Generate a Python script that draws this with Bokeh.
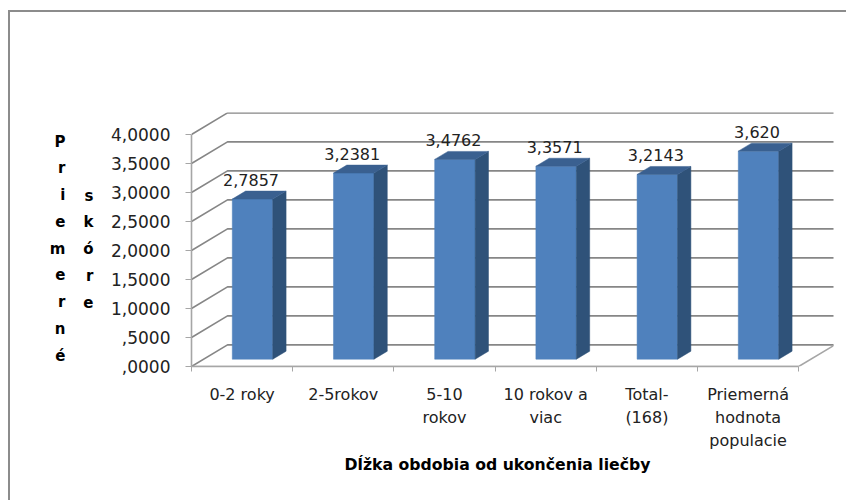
from bokeh.plotting import figure
from bokeh.models import Range1d, FixedTicker, LinearAxis, Title, InlineStyleSheet
from bokeh.core.properties import value
from bokeh.embed import file_html
from bokeh.resources import INLINE

categories = ["0-2 roky", "2-5rokov", "5-10\nrokov", "10 rokov a\nviac", "Total-\n(168)", "Priemerná\nhodnota\npopulacie"]
values = [2.7857, 3.2381, 3.4762, 3.3571, 3.2143, 3.620]
value_labels = ["2,7857", "3,2381", "3,4762", "3,3571", "3,2143", "3,620"]
y_ticks = [0, 0.5, 1, 1.5, 2, 2.5, 3, 3.5, 4]
y_tick_labels = [",0000", ",5000", "1,0000", "1,5000", "2,0000", "2,5000", "3,0000", "3,5000", "4,0000"]
x_title = "Dĺžka obdobia od ukončenia liečby"
y_title_1 = "Priemerné"
y_title_2 = "skóre"

FONT = "DejaVu Sans"
GRID = "#868686"
AXIS = "#a6a6a6"
FRONT = "#4f81bd"
TOP = "#3a6090"
SIDE = "#2f5279"

SLOT_PX, UNIT_PX = 101.2, 58.0
LEFT, RIGHT, TOP_PX, BOTTOM = 191, 833, 112, 366
DX, DY = 36 / SLOT_PX, 21.6 / UNIT_PX      # wall depth in data units

frame_css = InlineStyleSheet(css=""":host::before {content:""; position:absolute; left:8px; top:10px; right:0; bottom:0;
  border-top:2px solid #8c8c8c; border-left:2px solid #8c8c8c; pointer-events:none; z-index:5;}""")

p = figure(width=846, height=500, output_backend="svg", toolbar_location=None,
           x_range=Range1d(0, (RIGHT - LEFT) / SLOT_PX), y_range=Range1d(0, (BOTTOM - TOP_PX) / UNIT_PX),
           min_border_left=LEFT, min_border_right=846 - RIGHT, min_border_top=TOP_PX,
           min_border_bottom=500 - BOTTOM, background_fill_color="white", border_fill_color="white",
           stylesheets=[frame_css])
p.outline_line_color = None
p.grid.visible = False

# walls
n = len(categories)
for t in y_ticks:
    p.line([0, DX, n + DX], [t, t + DY, t + DY], line_color=GRID, line_width=1.6)
p.line([0, n, n + DX], [0, 0, DY], line_color=AXIS, line_width=1.6)

# bars
BAR_START, BAR_W = 0.403, 0.40
BASE, DEPTH = 0.338, 0.37
SCALE = 0.991
lefts = [i + BAR_START for i in range(n)]
rights = [l + BAR_W for l in lefts]
base = BASE * DY
tops = [base + v * SCALE for v in values]
ox, oy = DEPTH * DX, DEPTH * DY
p.quad(left=lefts, right=rights, bottom=base, top=tops, fill_color=FRONT, line_color=FRONT, line_width=0.5)
p.patches([[r, r + ox, r + ox, r] for r in rights],
          [[base, base + oy, t + oy, t] for t in tops], fill_color=SIDE, line_color=SIDE, line_width=0.5)
p.patches([[l, l + ox, r + ox, r] for l, r in zip(lefts, rights)],
          [[t, t + oy, t + oy, t] for t in tops], fill_color=TOP, line_color=TOP, line_width=0.5)
p.text(x=[l + BAR_W / 2 for l in lefts], y=[t + oy for t in tops], text=value_labels,
       text_font=value(FONT), text_font_size="16px", text_color="#222222",
       text_align="center", text_baseline="bottom", x_offset=-1.5, y_offset=-5)

# axes
ax = p.xaxis[0]
ax.bounds = (0, n)
ax.ticker = FixedTicker(ticks=[i + 0.5 for i in range(n)], minor_ticks=list(range(n + 1)))
ax.major_label_overrides = {i + 0.5: c for i, c in enumerate(categories)}
ax.major_tick_out = 0
ax.major_tick_in = 0
ax.minor_tick_out = 5
ax.minor_tick_in = 0
ax.minor_tick_line_color = AXIS
ax.axis_line_color = AXIS
ax.axis_line_width = 1.6
ax.major_label_text_font = FONT
ax.major_label_text_font_size = "16px"
ax.major_label_text_color = "#222222"
ax.major_label_text_line_height = 1.22
ax.major_label_standoff = 13

ay = p.yaxis[0]
ay.bounds = (0, 4)
ay.ticker = FixedTicker(ticks=y_ticks)
ay.major_label_overrides = dict(zip(y_ticks, y_tick_labels))
ay.major_tick_out = 6
ay.major_tick_in = 0
ay.minor_tick_line_color = None
ay.major_tick_line_color = AXIS
ay.axis_line_color = AXIS
ay.axis_line_width = 1.6
ay.major_label_text_font = FONT
ay.major_label_text_font_size = "17px"
ay.major_label_text_color = "#222222"
ay.major_label_standoff = 15

# stacked axis title: each word is a bare extra axis whose tick labels are its letters
def stacked(word, first_py, standoff):
    pos = [(BOTTOM - (first_py + i * 26.75)) / UNIT_PX for i in range(len(word))]
    a = LinearAxis(ticker=FixedTicker(ticks=pos), major_label_overrides=dict(zip(pos, word)),
                   axis_line_color=None, major_tick_line_color=None, minor_tick_line_color=None,
                   major_tick_out=0, major_tick_in=0, major_label_standoff=standoff,
                   major_label_text_font=FONT, major_label_text_font_style="bold",
                   major_label_text_font_size="15px", major_label_text_color="black")
    p.add_layout(a, "left")

stacked(y_title_2, 195, 15)
stacked(y_title_1, 141, 15)

p.add_layout(Title(text=x_title, align="left", offset=153, standoff=0, text_font=FONT, text_font_style="bold",
                   text_font_size="15.7px", text_color="black"), "below")

open("out.html", "w").write(file_html(p, INLINE))
